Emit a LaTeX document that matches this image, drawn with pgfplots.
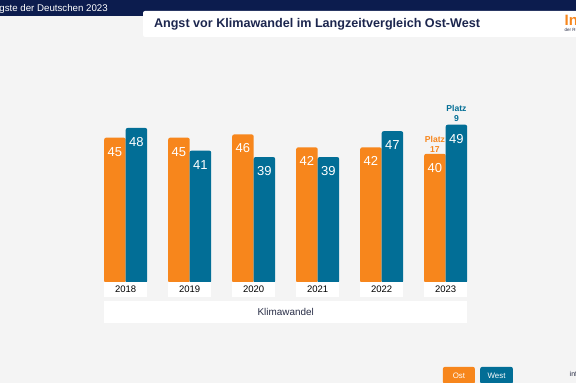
\documentclass[border=0pt]{standalone}
\usepackage{pgfplots}
\pgfplotsset{compat=1.18}
\usepackage{fontspec}
\setmainfont{Liberation Sans}
\definecolor{ost}{RGB}{247,134,28}
\definecolor{west}{RGB}{2,110,150}
\definecolor{navy}{RGB}{12,28,78}
\definecolor{titleblue}{RGB}{28,38,78}
\definecolor{bg}{RGB}{244,244,244}
\definecolor{dark}{RGB}{40,45,70}
\begin{document}
\begin{tikzpicture}
\clip (0pt,0pt) rectangle (576pt,383pt);
\fill[bg] (0pt,0pt) rectangle (576pt,383pt);
\fill[navy] (0pt,367pt) rectangle (576pt,383pt);
\fill[white, rounded corners=2pt] (143pt,346pt) rectangle (590pt,372pt);
\node[anchor=base east, white, inner sep=0pt, font=\fontsize{9.7}{11}\selectfont] at (108pt,371.5pt) {Die Ängste der Deutschen 2023};
\node[anchor=base west, inner sep=0pt, text=titleblue, font=\bfseries\fontsize{12.6}{14}\selectfont] at (153.8pt,355.2pt) {Angst vor Klimawandel im Langzeitvergleich Ost-West};
\node[anchor=base west, inner sep=0pt, text=ost, font=\bfseries\fontsize{15}{17}\selectfont] at (564.5pt,357pt) {Infocenter};
\node[anchor=base west, inner sep=0pt, text=dark, font=\fontsize{4.5}{5}\selectfont] at (564.5pt,351pt) {der R+V Versicherung};
\node[anchor=north west, fill=ost, text=white, minimum width=32pt, minimum height=17pt, inner sep=0pt, rounded corners=2pt, font=\fontsize{7.9}{9}\selectfont] at (442.7pt,16.3pt) {Ost};
\node[anchor=north west, fill=west, text=white, minimum width=32.7pt, minimum height=17pt, inner sep=0pt, rounded corners=2pt, font=\fontsize{7.9}{9}\selectfont] at (480pt,16.3pt) {West};
\node[anchor=base west, inner sep=0pt, text=dark, font=\fontsize{7}{8}\selectfont] at (569.5pt,6pt) {infocenter};
\begin{axis}[
  at={(93.7pt,100pt)}, anchor=south west,
  scale only axis, width=384pt, height=193.8pt,
  xmin=-0.5, xmax=5.5, ymin=0, ymax=60,
  axis line style={draw=none}, major tick length=0pt,
  ytick=\empty, xtick={0,1,2,3,4,5},
  xticklabels={2018,2019,2020,2021,2022,2023},
  xticklabel style={fill=white, minimum width=43pt, minimum height=15.5pt, inner sep=0pt, anchor=north, yshift=1.5pt, text=black, font=\fontsize{9.5}{11}\selectfont},
  xlabel={Klimawandel},
  xlabel style={at={(axis description cs:0.5,0)}, anchor=north, yshift=-17.7pt, fill=white, minimum width=363pt, minimum height=22.6pt, inner sep=0pt, text=dark, font=\fontsize{9.9}{11}\selectfont},
  axis on top,
  ybar, bar width=21.5pt,
  nodes near coords,
  nodes near coords style={anchor=center, yshift=-14pt, text=white, font=\fontsize{13}{15}\selectfont},
  /pgf/number format/assume math mode=true,
]
\addplot[fill=ost, draw=none, rounded corners=2pt, bar shift=-10.75pt] coordinates {(0,45) (1,45) (2,46) (3,42) (4,42) (5,40)};
\addplot[fill=west, draw=none, rounded corners=2pt, bar shift=10.75pt] coordinates {(0,48) (1,41) (2,39) (3,39) (4,47) (5,49)};
\node[anchor=south, text=ost, inner sep=1.5pt, align=center, xshift=-10.75pt, font=\bfseries\fontsize{8.6}{10}\selectfont] at (axis cs:5,40) {Platz\\17};
\node[anchor=south, text=west, inner sep=2.5pt, align=center, xshift=10.75pt, font=\bfseries\fontsize{8.6}{10}\selectfont] at (axis cs:5,49) {Platz\\9};
\end{axis}
\end{tikzpicture}
\end{document}
